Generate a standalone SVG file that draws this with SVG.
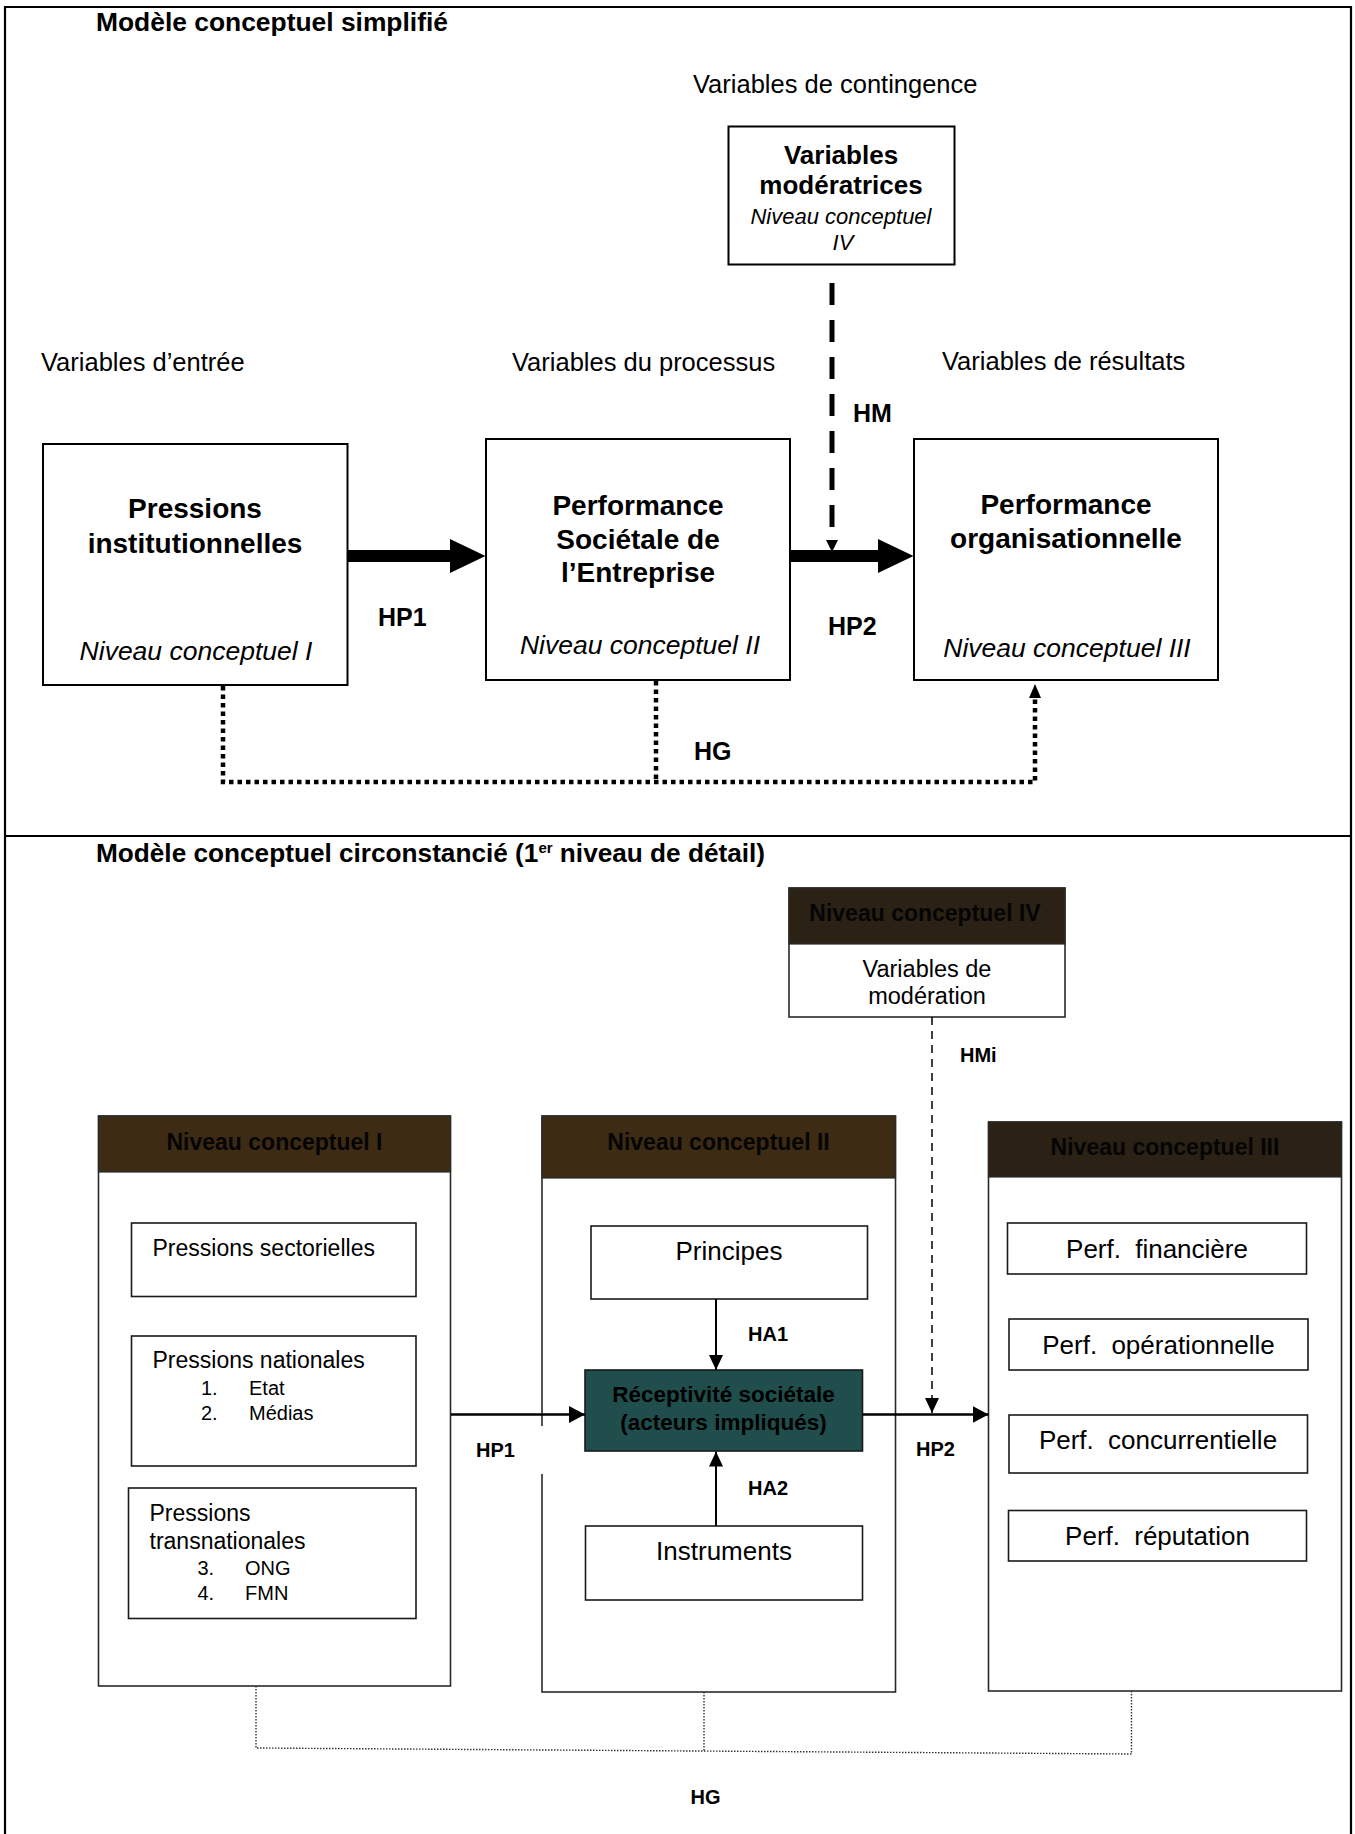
<svg xmlns="http://www.w3.org/2000/svg" width="1355" height="1834" viewBox="0 0 1355 1834">
<style>
text { font-family: "Liberation Sans", Arial, sans-serif; fill: #000; }
.b { font-weight: bold; }
.i { font-style: italic; }
.m { text-anchor: middle; }
.lbl { font-size: 25.5px; }
.bx { fill: #fff; stroke: #000; stroke-width: 2; }
.outer { fill: #fff; stroke: #2a2a2a; stroke-width: 1.6; }
.inner { fill: #fff; stroke: #1a1a1a; stroke-width: 1.6; }
.hdrA { fill: #3d2b13; stroke: #2a2a2a; stroke-width: 1.2; }
.hdrB { fill: #2b2114; stroke: #2a2a2a; stroke-width: 1.2; }
.hdrT { font-size: 23px; font-weight: bold; text-anchor: middle; fill: #050505; }
.it { font-size: 26px; text-anchor: middle; }
.perf { font-size: 26px; text-anchor: middle; word-spacing: 7px; }
.lst { font-size: 20px; }
.pr { font-size: 23px; }
.sl { font-size: 20px; font-weight: bold; }
.thin { fill: none; stroke: #000; stroke-width: 2.5; }
</style>
<defs>
<marker id="ahL" markerUnits="userSpaceOnUse" viewBox="0 0 16 17" refX="16" refY="8.5" markerWidth="16" markerHeight="17" orient="auto">
<path d="M0,0 L16,8.5 L0,17 Z" fill="#000"/>
</marker>
<marker id="ahS" markerUnits="userSpaceOnUse" viewBox="0 0 15 14" refX="15" refY="7" markerWidth="15" markerHeight="14" orient="auto">
<path d="M0,0 L15,7 L0,14 Z" fill="#000"/>
</marker>
</defs>

<g id="frame">
<path d="M5,1834 V7 H1351 V1834" fill="none" stroke="#000" stroke-width="2.2"/>
<line x1="5" y1="836" x2="1351" y2="836" stroke="#000" stroke-width="2.2"/>
</g>

<g id="labels-top">
<text class="b" x="96" y="31" font-size="26.4">Modèle conceptuel simplifié</text>
<text class="lbl" x="693" y="92.5">Variables de contingence</text>
<text class="lbl" x="41" y="371">Variables d’entrée</text>
<text class="lbl" x="512" y="371">Variables du processus</text>
<text class="lbl" x="942" y="370">Variables de résultats</text>
</g>

<g id="n-pressions">
<rect class="bx" x="43" y="444" width="304.5" height="241"/>
<text class="b m" x="195" y="518" font-size="28">Pressions</text>
<text class="b m" x="195" y="552.5" font-size="28">institutionnelles</text>
<text class="i m" x="196" y="660" font-size="26.5">Niveau conceptuel I</text>
</g>

<g id="n-pse">
<rect class="bx" x="486" y="439" width="304" height="241"/>
<text class="b m" x="638" y="515" font-size="28">Performance</text>
<text class="b m" x="638" y="548.5" font-size="28">Sociétale de</text>
<text class="b m" x="638" y="582" font-size="28">l’Entreprise</text>
<text class="i m" x="640" y="654" font-size="26.5">Niveau conceptuel II</text>
</g>

<g id="n-po">
<rect class="bx" x="914" y="439" width="304" height="241"/>
<text class="b m" x="1066" y="513.5" font-size="28">Performance</text>
<text class="b m" x="1066" y="548" font-size="28">organisationnelle</text>
<text class="i m" x="1067" y="657" font-size="26.5">Niveau conceptuel III</text>
</g>

<g id="n-mod">
<rect class="bx" x="728.5" y="126.5" width="226" height="138"/>
<text class="b m" x="841" y="163.5" font-size="26">Variables</text>
<text class="b m" x="841" y="193.5" font-size="26">modératrices</text>
<text class="i m" x="841" y="223.5" font-size="22">Niveau conceptuel</text>
<text class="i m" x="843" y="249.5" font-size="22">IV</text>
</g>

<g id="connectors-top">
<path d="M347.5,550 H450 V539 L485.5,556 L450,573 V562 H347.5 Z" fill="#000"/>
<path d="M790,550 H878 V539 L913.5,556 L878,573 V562 H790 Z" fill="#000"/>
<line x1="832" y1="283" x2="832" y2="528" stroke="#000" stroke-width="5" stroke-dasharray="22 15"/>
<path d="M826,540 L838,540 L832,552 Z" fill="#000"/>
<path d="M223,686 V782 H1035 V698" fill="none" stroke="#000" stroke-width="4.5" stroke-dasharray="4.5 4"/>
<path d="M656,681 V782" fill="none" stroke="#000" stroke-width="4.5" stroke-dasharray="4.5 4"/>
<path d="M1029,698 L1041,698 L1035,684 Z" fill="#000"/>
<text class="b" x="378" y="626" font-size="25">HP1</text>
<text class="b" x="828" y="635" font-size="25">HP2</text>
<text class="b" x="853" y="422" font-size="25">HM</text>
<text class="b" x="694" y="760" font-size="25">HG</text>
</g>

<g id="labels-bottom">
<text class="b" x="96" y="862" font-size="26.2">Modèle conceptuel circonstancié (1<tspan font-size="15" dy="-9">er</tspan><tspan dy="9"> niveau de détail)</tspan></text>
</g>

<g id="n-niv4">
<rect class="outer" x="789" y="888" width="276" height="129"/>
<rect class="hdrB" x="789" y="888" width="276" height="56"/>
<text class="hdrT" x="925" y="921">Niveau conceptuel IV</text>
<text class="m" x="927" y="977" font-size="23.5">Variables de</text>
<text class="m" x="927" y="1004" font-size="23.5">modération</text>
</g>

<g id="n-niv1">
<rect class="outer" x="98.5" y="1116" width="352" height="570"/>
<rect class="hdrA" x="98.5" y="1116" width="352" height="56"/>
<text class="hdrT" x="274.5" y="1150">Niveau conceptuel I</text>
<g id="n-sect">
<rect class="inner" x="131.5" y="1223" width="284.5" height="73.5"/>
<text class="pr" x="152.5" y="1256">Pressions sectorielles</text>
</g>
<g id="n-nat">
<rect class="inner" x="131.5" y="1336" width="284.5" height="130"/>
<text class="pr" x="152.5" y="1368">Pressions nationales</text>
<text class="lst" x="201" y="1395">1.</text><text class="lst" x="249" y="1395">Etat</text>
<text class="lst" x="201" y="1420">2.</text><text class="lst" x="249" y="1420">Médias</text>
</g>
<g id="n-trans">
<rect class="inner" x="128.5" y="1488" width="287.5" height="130.5"/>
<text class="pr" x="149.5" y="1521">Pressions</text>
<text class="pr" x="149.5" y="1549">transnationales</text>
<text class="lst" x="197.5" y="1575">3.</text><text class="lst" x="245" y="1575">ONG</text>
<text class="lst" x="197.5" y="1600">4.</text><text class="lst" x="245" y="1600">FMN</text>
</g>
</g>

<g id="n-niv2">
<rect class="outer" x="542" y="1116" width="353.5" height="576"/>
<rect class="hdrA" x="542" y="1116" width="353.5" height="62"/>
<text class="hdrT" x="718.5" y="1150">Niveau conceptuel II</text>
<g id="n-principes">
<rect class="inner" x="591" y="1226" width="276.5" height="73"/>
<text class="it" x="729" y="1260">Principes</text>
</g>
<g id="n-recept">
<rect x="585" y="1370" width="277.5" height="81" fill="#1f4e4c" stroke="#1a1a1a" stroke-width="1.6"/>
<text class="b m" x="723.5" y="1402" font-size="22.5" fill="#050505">Réceptivité sociétale</text>
<text class="b m" x="723.5" y="1430" font-size="22.5" fill="#050505">(acteurs impliqués)</text>
</g>
<g id="n-instr">
<rect class="inner" x="585.5" y="1526" width="277" height="74"/>
<text class="it" x="724" y="1559.5">Instruments</text>
</g>
</g>

<g id="n-niv3">
<rect class="outer" x="988.5" y="1122" width="353" height="569"/>
<rect class="hdrB" x="988.5" y="1122" width="353" height="55"/>
<text class="hdrT" x="1165" y="1155">Niveau conceptuel III</text>
<g id="n-fin">
<rect class="inner" x="1007.5" y="1223" width="299" height="51"/>
<text class="perf" x="1157" y="1258">Perf. financière</text>
</g>
<g id="n-op">
<rect class="inner" x="1009" y="1319" width="299" height="51"/>
<text class="perf" x="1158.5" y="1353.5">Perf. opérationnelle</text>
</g>
<g id="n-conc">
<rect class="inner" x="1009" y="1415" width="298.5" height="58"/>
<text class="perf" x="1158" y="1449">Perf. concurrentielle</text>
</g>
<g id="n-rep">
<rect class="inner" x="1008.5" y="1510.5" width="298" height="50.5"/>
<text class="perf" x="1157.5" y="1544.5">Perf. réputation</text>
</g>
</g>

<g id="connectors-bottom">
<line class="thin" x1="451" y1="1414.5" x2="585" y2="1414.5" marker-end="url(#ahL)"/>
<line class="thin" x1="862.5" y1="1414.5" x2="988.5" y2="1414.5" marker-end="url(#ahL)"/>
<line x1="716" y1="1299" x2="716" y2="1370" stroke="#000" stroke-width="2" marker-end="url(#ahS)"/>
<line x1="716" y1="1526" x2="716" y2="1451.5" stroke="#000" stroke-width="2" marker-end="url(#ahS)"/>
<line x1="932" y1="1017" x2="932" y2="1413" stroke="#000" stroke-width="1.5" stroke-dasharray="8 6" marker-end="url(#ahS)"/>
<path d="M256,1686 V1748 L1131.5,1754 V1691 M704,1692 V1751" fill="none" stroke="#333" stroke-width="1.4" stroke-dasharray="1.5 1.5"/>
<rect x="539" y="1426" width="6" height="48" fill="#fff"/>
<text class="sl" x="476" y="1457">HP1</text>
<text class="sl" x="916" y="1456">HP2</text>
<text class="sl" x="748" y="1341">HA1</text>
<text class="sl" x="748" y="1495">HA2</text>
<text class="sl" x="960" y="1062">HMi</text>
<text class="sl" x="690.5" y="1804">HG</text>
</g>
</svg>
